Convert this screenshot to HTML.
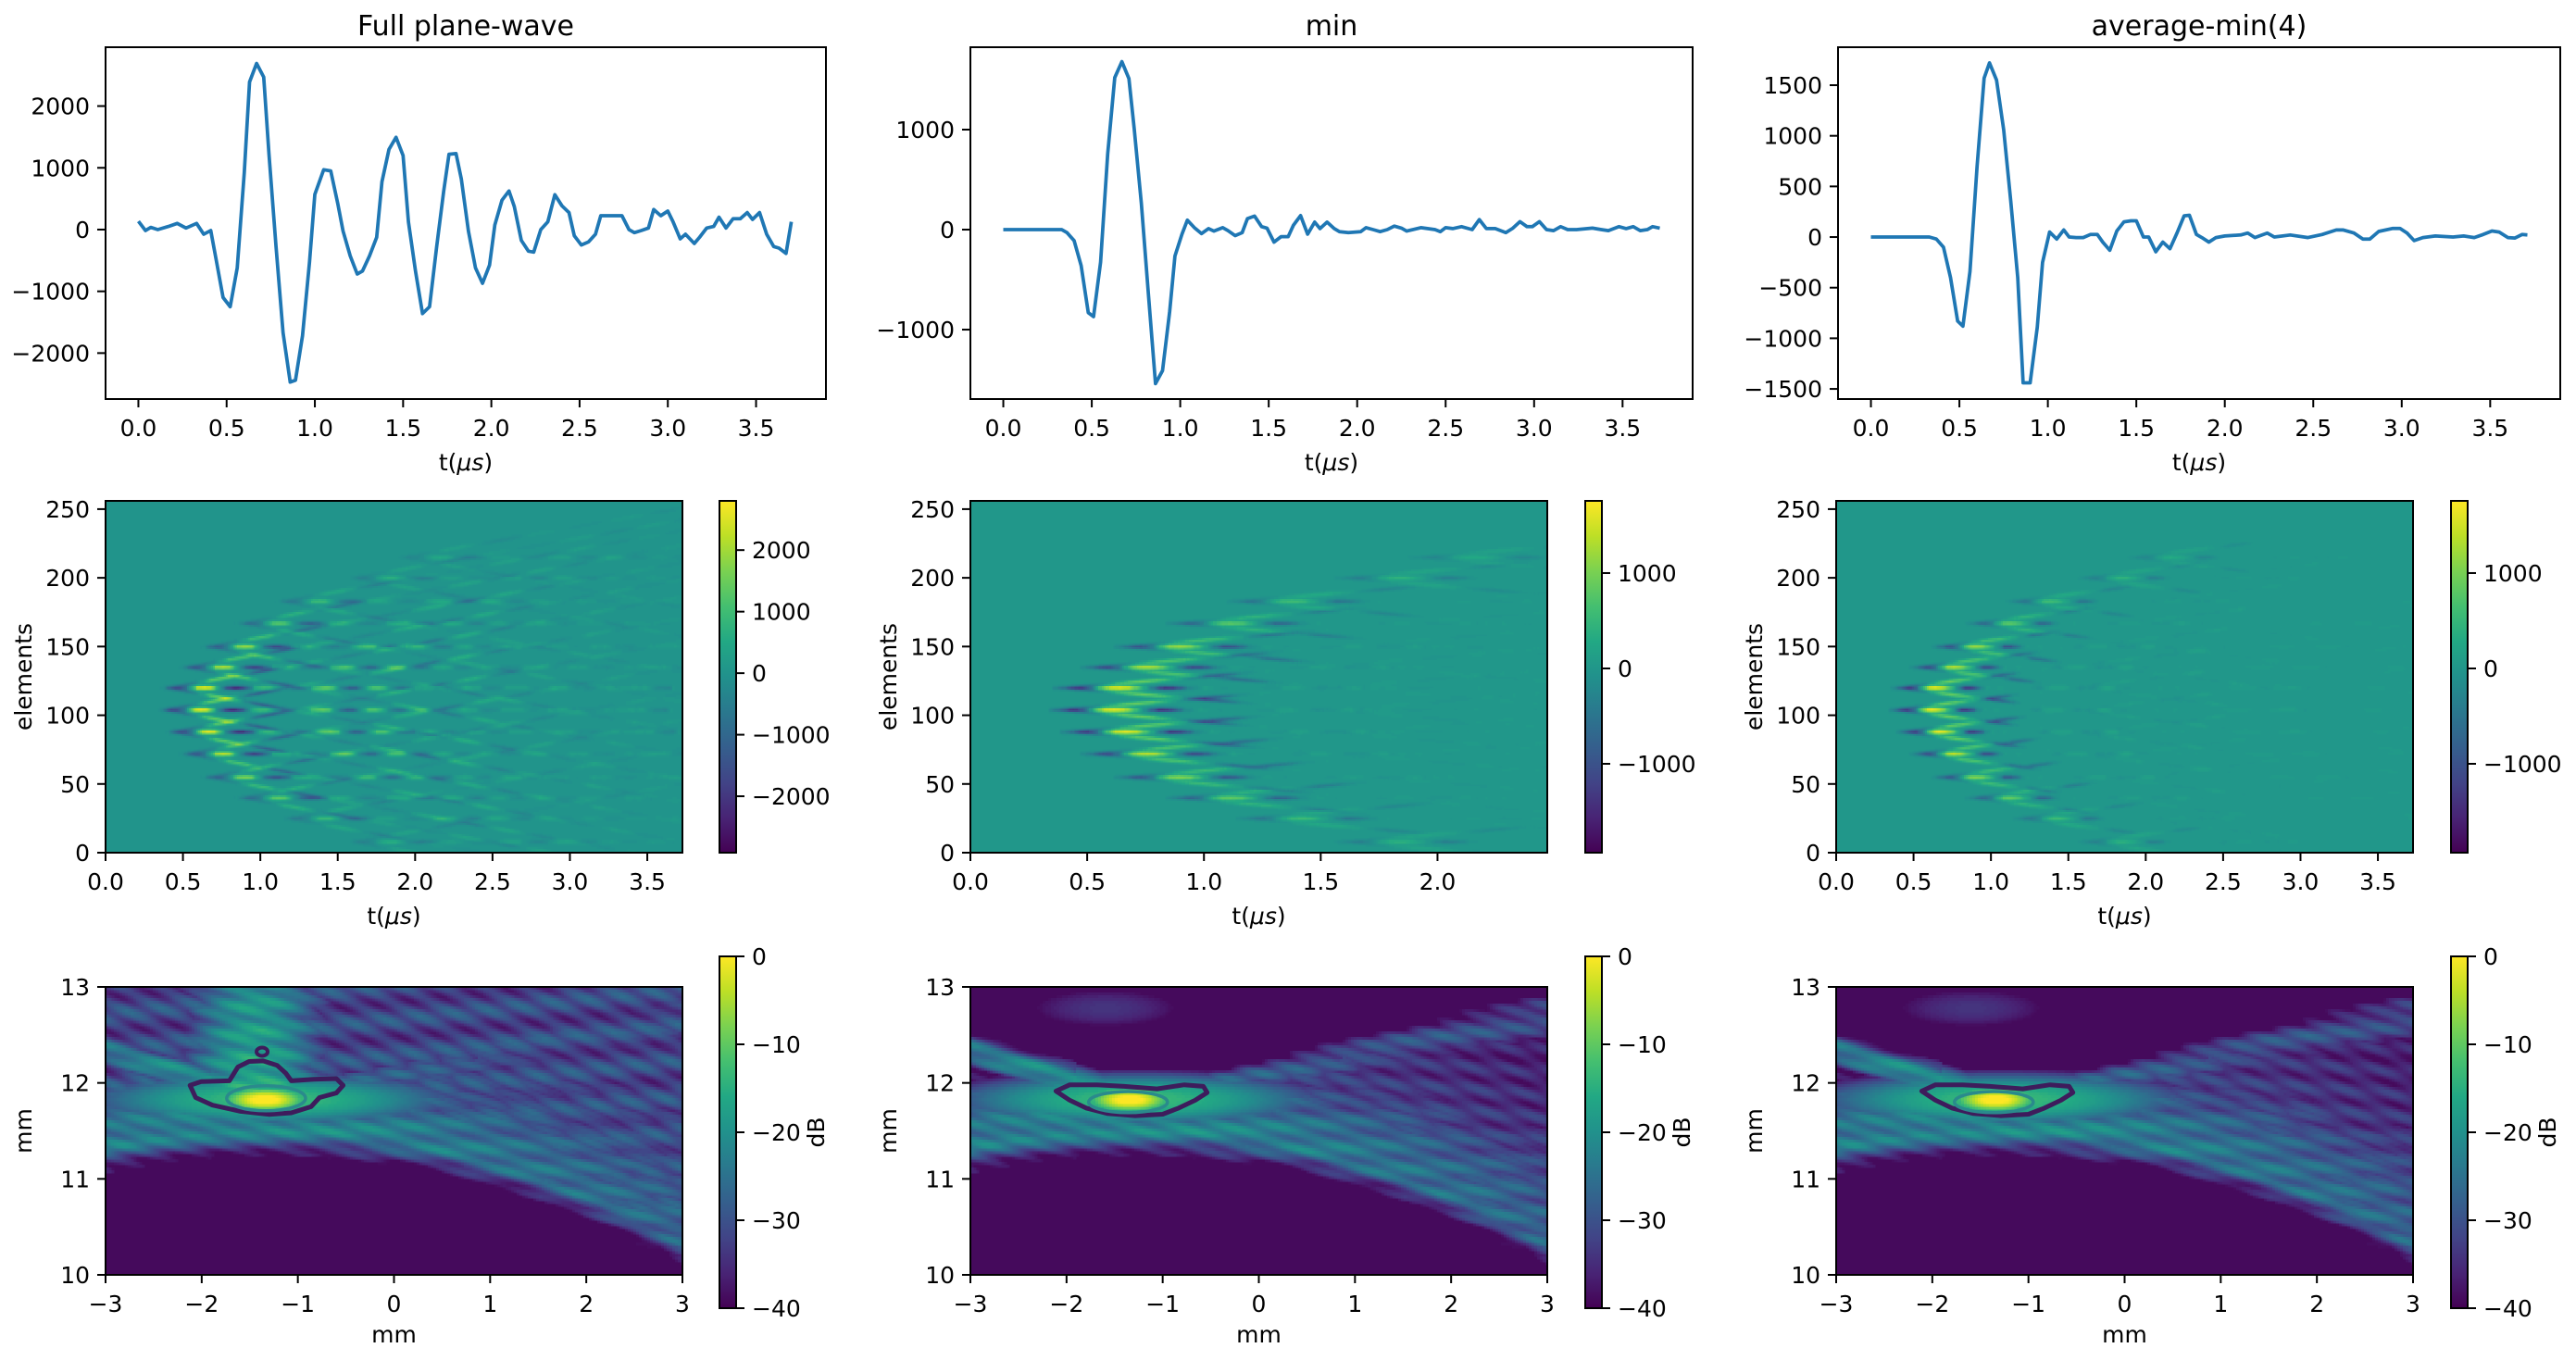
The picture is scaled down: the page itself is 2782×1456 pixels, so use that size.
<!DOCTYPE html>
<html><head><meta charset="utf-8">
<style>
html,body{margin:0;padding:0;background:#fff;}
#fig{position:relative;width:2782px;height:1456px;overflow:hidden;background:#fff;}
#plot{position:absolute;left:0;top:0;}
text{font-family:"DejaVu Sans","Liberation Sans",sans-serif;fill:#000;}
</style></head>
<body>
<div id="fig">
<svg id="plot" xmlns="http://www.w3.org/2000/svg" width="2782" height="1456"></svg>
</div>
<script>
// ---------------- DATA ----------------
const T_FULL=[0,0.04,0.07,0.11,0.17,0.22,0.27,0.33,0.37,0.41,0.44,0.48,0.52,0.56,0.6,0.63,0.67,0.71,0.74,0.78,0.82,0.86,0.89,0.93,0.97,1.0,1.05,1.09,1.13,1.16,1.2,1.24,1.27,1.31,1.35,1.38,1.42,1.46,1.5,1.53,1.57,1.61,1.65,1.69,1.73,1.76,1.8,1.83,1.87,1.91,1.95,1.99,2.02,2.06,2.1,2.13,2.17,2.21,2.24,2.28,2.32,2.36,2.4,2.44,2.47,2.51,2.55,2.59,2.62,2.66,2.7,2.74,2.78,2.81,2.85,2.89,2.92,2.96,3.0,3.03,3.07,3.1,3.15,3.18,3.22,3.26,3.29,3.33,3.37,3.41,3.45,3.48,3.52,3.56,3.6,3.63,3.67,3.7];
const V_FULL=[135,-15,35,0,50,100,25,100,-75,-15,-475,-1100,-1250,-620,920,2390,2690,2470,1220,-275,-1670,-2470,-2440,-1720,-520,570,970,950,420,-25,-425,-720,-670,-425,-125,775,1300,1495,1200,125,-670,-1360,-1250,-275,625,1220,1230,820,-25,-620,-870,-575,75,475,625,375,-175,-350,-365,0,125,565,385,275,-100,-250,-200,-75,225,225,225,225,0,-50,-15,25,325,225,300,125,-150,-75,-225,-125,25,50,200,25,175,175,275,165,275,-75,-275,-300,-385,125];
const T_MIN=[0,0.33,0.36,0.4,0.44,0.48,0.51,0.55,0.59,0.63,0.67,0.71,0.74,0.78,0.82,0.86,0.9,0.94,0.97,1.01,1.04,1.08,1.12,1.16,1.19,1.24,1.27,1.31,1.35,1.38,1.42,1.46,1.49,1.53,1.57,1.61,1.64,1.68,1.72,1.76,1.79,1.83,1.87,1.9,1.95,2.02,2.05,2.09,2.13,2.17,2.21,2.25,2.28,2.36,2.44,2.47,2.5,2.54,2.59,2.65,2.69,2.73,2.78,2.84,2.88,2.92,2.96,2.99,3.03,3.07,3.11,3.15,3.19,3.24,3.33,3.38,3.42,3.48,3.52,3.56,3.6,3.64,3.67,3.71];
const V_MIN=[0,0,-30,-110,-360,-830,-870,-325,760,1520,1680,1510,1010,265,-640,-1540,-1410,-820,-265,-45,95,20,-40,10,-15,20,-10,-60,-30,110,135,30,15,-125,-70,-70,45,140,-45,75,10,75,10,-20,-30,-20,20,0,-20,0,35,15,-15,20,0,-20,20,10,30,0,100,10,10,-30,15,80,30,30,80,0,-10,30,0,0,15,0,-10,30,10,30,-10,0,30,15];
const T_AVG=[0,0.33,0.37,0.41,0.45,0.49,0.52,0.56,0.6,0.64,0.67,0.71,0.75,0.79,0.83,0.86,0.9,0.94,0.97,1.01,1.05,1.09,1.12,1.16,1.2,1.24,1.28,1.31,1.35,1.39,1.43,1.47,1.5,1.54,1.57,1.61,1.65,1.69,1.73,1.77,1.8,1.84,1.87,1.91,1.95,2.0,2.09,2.13,2.17,2.24,2.28,2.37,2.47,2.55,2.63,2.67,2.73,2.78,2.82,2.87,2.95,2.99,3.03,3.07,3.12,3.19,3.29,3.35,3.41,3.46,3.51,3.55,3.6,3.64,3.68,3.71];
const V_AVG=[0,0,-20,-100,-400,-830,-880,-340,700,1570,1720,1550,1060,360,-400,-1440,-1440,-890,-250,50,-20,70,0,-5,-5,25,25,-50,-130,60,150,160,160,0,0,-145,-50,-115,40,210,215,25,-5,-50,-5,10,20,40,-5,40,0,20,-5,25,70,70,40,-20,-20,55,85,85,40,-35,-5,10,0,10,-5,25,60,50,-5,-10,25,20];

const TICKS_T=[0,0.5,1,1.5,2,2.5,3,3.5];
const TICKS_T_SHORT=[0,0.5,1,1.5,2];
const TICKS_Y_FULL=[-2000,-1000,0,1000,2000];
const TICKS_Y_MIN=[-1000,0,1000];
const TICKS_Y_AVG=[-1500,-1000,-500,0,500,1000,1500];
const TICKS_ELEM=[0,50,100,150,200,250];
const TICKS_CB_FULL=[-2000,-1000,0,1000,2000];
const TICKS_CB_MIN=[-1000,0,1000];
const TICKS_MM_X=[-3,-2,-1,0,1,2,3];
const TICKS_MM_Z=[10,11,12,13];
const TICKS_DB=[-40,-30,-20,-10,0];

const ECHO_ELEM=[8,25,40,55,72,88,104,120,135,150,167,183,200,215];
const ECHO_T=[1.6,1.18,0.88,0.66,0.52,0.43,0.38,0.4,0.52,0.66,0.88,1.14,1.6,1.92];
const ECHO_AMP=[0.25,0.33,0.5,0.65,0.8,0.95,1.0,1.0,0.8,0.7,0.5,0.36,0.25,0.18];

const C1_X=[-2.122,-2.005,-1.712,-1.624,-1.507,-1.361,-1.214,-1.126,-1.068,-0.834,-0.6,-0.529,-0.6,-0.775,-0.863,-1.068,-1.302,-1.595,-1.888,-2.063];
const C1_Z=[11.975,12.013,12.022,12.166,12.223,12.229,12.182,12.102,12.022,12.038,12.045,11.975,11.895,11.847,11.752,11.688,11.672,11.704,11.768,11.847];
const C2_X=[-2.11,-1.967,-1.683,-1.40,-1.059,-0.775,-0.577,-0.537,-0.662,-0.832,-1.0,-1.286,-1.57,-1.797,-1.967];
const C2_Z=[11.915,11.98,11.98,11.964,11.938,11.98,11.964,11.899,11.819,11.738,11.674,11.658,11.68,11.738,11.819];
const INNER_CX=[-1.33,-1.36,-1.36];
const INNER_CZ=[11.84,11.80,11.80];

// ---------------- HELPERS ----------------
var NS='http://www.w3.org/2000/svg';
var ROOT=document.getElementById('plot');
function el(tag,attrs,parent){var e=document.createElementNS(NS,tag);for(var k in attrs)e.setAttribute(k,attrs[k]);(parent||ROOT).appendChild(e);return e;}
function lab(v,dec){var s=Math.abs(v).toFixed(dec);return (v<0?'\u2212':'')+s;}
function sx(b,xl,v){return b.x0+(v-xl[0])/(xl[1]-xl[0])*(b.x1-b.x0);}
function sy(b,yl,v){return b.y1-(v-yl[0])/(yl[1]-yl[0])*(b.y1-b.y0);}
var VIR=[[68,1,84],[72,36,117],[65,68,135],[53,95,141],[42,120,142],[33,145,140],[34,168,132],[68,191,112],[122,209,81],[189,223,38],[253,231,37]];
function vir(u){u=Math.max(0,Math.min(1,u))*10;var i=Math.min(9,Math.floor(u)),f=u-i;var a=VIR[i],c=VIR[i+1];return 'rgb('+Math.round(a[0]+(c[0]-a[0])*f)+','+Math.round(a[1]+(c[1]-a[1])*f)+','+Math.round(a[2]+(c[2]-a[2])*f)+')';}
function interp(T,V,t){if(t<T[0]||t>T[T.length-1])return 0;var i=1;while(i<T.length&&T[i]<t)i++;if(i>=T.length)return V[V.length-1];var f=(t-T[i-1])/(T[i]-T[i-1]);return V[i-1]+(V[i]-V[i-1])*f;}

var NQ=80;
function heat(b,name,cw,ch,fn){
  var g=el('g',{'shape-rendering':'crispEdges'});
  
  
  var W=b.x1-b.x0,H=b.y1-b.y0,nx=Math.ceil(W/cw),ny=Math.ceil(H/ch);
  var paths=[];for(var q=0;q<=NQ;q++)paths.push([]);
  for(var j=0;j<ny;j++){
    var y=b.y0+j*ch,hh=Math.min(ch,b.y1-y);var fy=(j+0.5)/ny;
    var run=-1,start=0;
    for(var i=0;i<=nx;i++){
      var q2=-2;
      if(i<nx){var u=fn((i+0.5)/nx,fy);q2=Math.round(Math.max(0,Math.min(1,u))*NQ);}
      if(q2!==run){
        if(run>=0){var x0=b.x0+start*cw,x1=Math.min(b.x1,b.x0+i*cw);paths[run].push('M'+x0.toFixed(1)+' '+y.toFixed(1)+'h'+(x1-x0+0.6).toFixed(1)+'v'+(hh+0.6).toFixed(1)+'h'+(-(x1-x0+0.6)).toFixed(1)+'z');}
        run=q2;start=i;
      }
    }
  }
  for(var q3=0;q3<=NQ;q3++){if(paths[q3].length)el('path',{d:paths[q3].join(''),fill:vir(q3/NQ)},g);}
}
function frame(b,name){
  var r=el('rect',{x:b.x0,y:b.y0,width:b.x1-b.x0,height:b.y1-b.y0,fill:'none',stroke:'#000','stroke-width':2});
  
  
}
function xticks(b,xl,ticks,dec,name){
  var g=el('g',{});
  
  
  ticks.forEach(function(v){var x=sx(b,xl,v);
    el('line',{x1:x,x2:x,y1:b.y1,y2:b.y1+9,stroke:'#000','stroke-width':2},g);
    var t=el('text',{x:x,y:b.y1+40,'font-size':25,'text-anchor':'middle'},g);t.textContent=lab(v,dec);
    
    });
}
function yticks(b,yl,ticks,dec,name,right){
  var g=el('g',{});
  
  
  ticks.forEach(function(v){var y=sy(b,yl,v);var t;
    if(right){el('line',{x1:b.x1,x2:b.x1+9,y1:y,y2:y,stroke:'#000','stroke-width':2},g);
      t=el('text',{x:b.x1+17,y:y+9,'font-size':25,'text-anchor':'start'},g);}
    else{el('line',{x1:b.x0-9,x2:b.x0,y1:y,y2:y,stroke:'#000','stroke-width':2},g);
      t=el('text',{x:b.x0-17,y:y+9,'font-size':25,'text-anchor':'end'},g);}
    t.textContent=lab(v,dec);
    
    
  });
}
function xlabelT(b,y,name){var t=el('text',{x:(b.x0+b.x1)/2,y:y,'font-size':25,'text-anchor':'middle'});
  t.appendChild(document.createTextNode('t('));
  var sp=el('tspan',{'font-style':'italic'},t);sp.textContent='\u03bcs';
  t.appendChild(document.createTextNode(')'));
  
  }
function xlabelMM(b,y,name){var t=el('text',{x:(b.x0+b.x1)/2,y:y,'font-size':25,'text-anchor':'middle'});t.textContent='mm';
  
  }
function ylabel(b,txt,name){var cx=b.x0-80,cy=(b.y0+b.y1)/2;var t=el('text',{x:cx,y:cy,'font-size':25,'text-anchor':'middle',transform:'rotate(-90 '+cx+' '+cy+')'});t.textContent=txt;
  
  }
var defs=el('defs',{});
var grad=el('linearGradient',{id:'virgrad',x1:0,y1:1,x2:0,y2:0},defs);
for(var gi=0;gi<=10;gi++)el('stop',{offset:(gi/10),'stop-color':vir(gi/10)},grad);
function colorbar(b,cl,ticks,name,dbLabel){
  var r=el('rect',{x:b.x0,y:b.y0,width:b.x1-b.x0,height:b.y1-b.y0,fill:'url(#virgrad)'});
  
  
  frame(b,name+'-colorbar');yticks(b,cl,ticks,0,name+'-colorbar',true);
  if(dbLabel){var cx=b.x1+95,cy=(b.y0+b.y1)/2;var t=el('text',{x:cx,y:cy,'font-size':25,'text-anchor':'middle',transform:'rotate(-90 '+cx+' '+cy+')'});t.textContent='dB';
    
    }
}

var TITLES=['Full plane-wave','min','average-min(4)'];
var NAMES=['full-plane-wave','min','average-min'];
var R1_T=[T_FULL,T_MIN,T_AVG],R1_V=[V_FULL,V_MIN,V_AVG];

// ---------------- ROW 1 ----------------
try{
var XL_T=[-0.186,3.896];
var R1=[{x0:114,x1:892,y0:51,y1:431},{x0:1048,x1:1828,y0:51,y1:431},{x0:1985,x1:2765,y0:51,y1:431}];
var R1_YL=[[-2744,2953],[-1694,1824],[-1600,1875]];
var R1_YT=[TICKS_Y_FULL,TICKS_Y_MIN,TICKS_Y_AVG];
for(var i=0;i<3;i++){
  var b=R1[i],yl=R1_YL[i];
  var tt=el('text',{x:(b.x0+b.x1)/2,y:38,'font-size':30,'text-anchor':'middle'});tt.textContent=TITLES[i];
  
  
  var d='';for(var j=0;j<R1_T[i].length;j++)d+=(j?'L':'M')+sx(b,XL_T,R1_T[i][j]).toFixed(1)+','+sy(b,yl,R1_V[i][j]).toFixed(1);
  var p=el('path',{d:d,fill:'none',stroke:'#1f77b4','stroke-width':3.75,'stroke-linejoin':'round'});
  
  
  frame(b,NAMES[i]+'-trace');
  xticks(b,XL_T,TICKS_T,1,NAMES[i]+'-trace');
  yticks(b,yl,R1_YT[i],0,NAMES[i]+'-trace');
  xlabelT(b,508,NAMES[i]+'-trace');
}
}catch(err){console.log(err);}

// ---------------- ROW 2 ----------------
try{
var R2=[{x0:114,x1:737,y0:541,y1:921},{x0:1048,x1:1671,y0:541,y1:921},{x0:1983,x1:2606,y0:541,y1:921}];
var R2_CB=[{x0:777,x1:795,y0:541,y1:921},{x0:1712,x1:1730,y0:541,y1:921},{x0:2647,x1:2665,y0:541,y1:921}];
var R2_XL=[[0,3.727],[0,2.47],[0,3.727]];
var R2_CL=[[-2917,2800],[-1932,1757],[-1932,1757]];
var R2_XT=[TICKS_T,TICKS_T_SHORT,TICKS_T];
var R2_CT=[TICKS_CB_FULL,TICKS_CB_MIN,TICKS_CB_MIN];
for(var i2=0;i2<3;i2++)(function(i){
  var b=R2[i],xl=R2_XL[i],cl=R2_CL[i];
  var T=R1_T[i],V=R1_V[i];
  var NT=400,tmax=4,sig=[];
  for(var k=0;k<NT;k++)sig.push(interp(T,V,k/NT*tmax));
  var spread=i==0?20:14;
  heat(b,NAMES[i]+'-element-heatmap',2,2,function(fx,fy){
    var e=256*(1-fy),t=xl[0]+fx*(xl[1]-xl[0]),v=0;
    for(var k=0;k<ECHO_ELEM.length;k++){var dt=t-ECHO_T[k];if(dt<-0.05)continue;
      var de=e-ECHO_ELEM[k];var off=spread*Math.max(dt,0);
      if(Math.abs(de)>off+6)continue;
      var ki=Math.floor((dt+0.44)/tmax*NT);if(ki<0||ki>=NT)continue;
      var g=Math.exp(-(de/1.6)*(de/1.6));
      var g2=0.5*(Math.exp(-((de-off)/1.5)*((de-off)/1.5))+Math.exp(-((de+off)/1.5)*((de+off)/1.5)));
      var ki2=Math.floor((dt*0.7+0.44)/tmax*NT);
      v+=ECHO_AMP[k]*(sig[ki]*g+(ki2<NT?sig[ki2]:0)*g2);}
    return (v-cl[0])/(cl[1]-cl[0]);
  });
  frame(b,NAMES[i]+'-element-heatmap');
  xticks(b,xl,R2_XT[i],1,NAMES[i]+'-element-heatmap');
  yticks(b,[0,256],TICKS_ELEM,0,NAMES[i]+'-element-heatmap');
  xlabelT(b,998,NAMES[i]+'-element-heatmap');
  ylabel(b,'elements',NAMES[i]+'-element-heatmap');
  colorbar(R2_CB[i],cl,R2_CT[i],NAMES[i]+'-element-heatmap',false);
})(i2);
}catch(err){console.log(err);}

// ---------------- ROW 3 ----------------
try{
var R3=[{x0:114,x1:737,y0:1066,y1:1377},{x0:1048,x1:1671,y0:1066,y1:1377},{x0:1983,x1:2606,y0:1066,y1:1377}];
var R3_CB=[{x0:777,x1:795,y0:1033,y1:1413},{x0:1712,x1:1730,y0:1033,y1:1413},{x0:2647,x1:2665,y0:1033,y1:1413}];
var XL_MM=[-3,3],ZL_MM=[10,13],CL_DB=[-40,0];
function bmode(x,z,full){
  var fx=-1.3,fz=11.83,dx=x-fx,ax=Math.abs(dx);
  var v=-39;
  var tex=2.5*Math.sin(38*(z+0.32*x))+2*Math.sin(23*(z-0.2*x)+x*3);
  v=Math.max(v,-40+42*Math.exp(-Math.pow((dx+0.05)/0.55,2)-Math.pow((z-fz)/0.16,2)));
  v=Math.max(v,-13-9*Math.pow(dx/1.3,2)-20*Math.pow((z-fz)/0.28,2));
  var zl=11.5-0.065*dx*dx,h=z-zl;
  if(h>-0.25){
    var thick=0.3+0.2*ax;
    v=Math.max(v,-21-1.6*ax-10*Math.pow(Math.max(h,0)/thick,2)+tex-(h<0?70*(-h):0));
    if(dx>0&&z<fz+0.2*dx)v=Math.max(v,-31+4*Math.sin(30*(z+0.3*x))*Math.sin(7*x+3*z)-3*(z-zl)-(h<0?60*(-h):0));
  }
  if(dx<0){var d1=z-(fz-0.3*dx);v=Math.max(v,-17-4*ax-16*Math.pow(d1/0.18,2)+(ax>0.6?tex:0));}
  if(dx>0){var d2=z-(fz+0.2*dx);v=Math.max(v,-28-0.8*ax-16*Math.pow(d2/(0.12+0.05*ax),2)+tex);}
  if(full){
    if(z>fz)v=Math.max(v,-16-22*Math.pow((x+1.45)/0.85,2)-4*(z-fz)+tex);
    if(h>0)v=Math.max(v,-32+3*Math.sin(30*(z+0.5*x))+3*Math.sin(17*(z-0.4*x)+5*x));
  }else{
    v=Math.max(v,-34-8*Math.pow((x+1.6)/0.9,2)-Math.pow((z-12.78)/0.08,2));
  }
  return Math.max(-40,Math.min(0,v));
}
var R3_CX=[C1_X,C2_X,C2_X],R3_CZ=[C1_Z,C2_Z,C2_Z];
for(var i3=0;i3<3;i3++)(function(i){
  var b=R3[i];
  heat(b,NAMES[i]+'-bmode-image',3,3,function(fx,fy){
    var x=XL_MM[0]+fx*(XL_MM[1]-XL_MM[0]),z=ZL_MM[1]-fy*(ZL_MM[1]-ZL_MM[0]);
    return (bmode(x,z,i==0)-CL_DB[0])/(CL_DB[1]-CL_DB[0]);
  });
  var cx=R3_CX[i],cz=R3_CZ[i],d='';
  for(var j=0;j<cx.length;j++)d+=(j?'L':'M')+sx(b,XL_MM,cx[j]).toFixed(1)+','+sy(b,ZL_MM,cz[j]).toFixed(1);
  var po=el('path',{d:d+'Z',fill:'none',stroke:'#3e1c5c','stroke-width':5,'stroke-linejoin':'round'});
  
  
  var pi=el('ellipse',{cx:sx(b,XL_MM,INNER_CX[i]),cy:sy(b,ZL_MM,INNER_CZ[i]),rx:0.41/6*(b.x1-b.x0),ry:(i==0?0.13:0.11)/3*(b.y1-b.y0),fill:'none',stroke:'#2a8a8c','stroke-width':3.5});
  
  
  if(i==0){var sc=el('ellipse',{cx:sx(b,XL_MM,-1.372),cy:sy(b,ZL_MM,12.325),rx:6,ry:4.5,fill:'none',stroke:'#3e1c5c','stroke-width':4});
    
    }
  frame(b,NAMES[i]+'-bmode');
  xticks(b,XL_MM,TICKS_MM_X,0,NAMES[i]+'-bmode');
  yticks(b,ZL_MM,TICKS_MM_Z,0,NAMES[i]+'-bmode');
  xlabelMM(b,1450,NAMES[i]+'-bmode');
  ylabel(b,'mm',NAMES[i]+'-bmode');
  colorbar(R3_CB[i],CL_DB,TICKS_DB,NAMES[i]+'-bmode',true);
})(i3);
}catch(err){console.log(err);}
</script>
</body></html>
